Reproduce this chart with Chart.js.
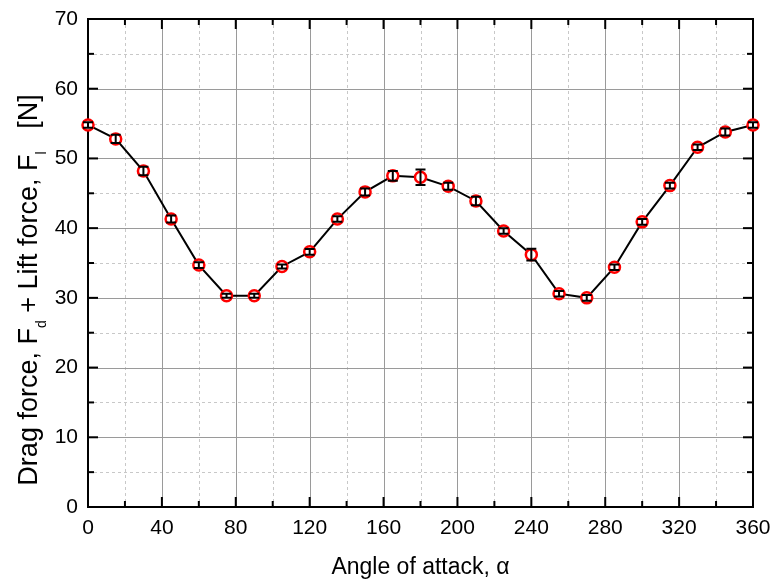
<!DOCTYPE html>
<html>
<head>
<meta charset="utf-8">
<script src="https://cdn.jsdelivr.net/npm/chart.js@4/dist/chart.umd.min.js"></script>
<style>
  html, body { margin: 0; padding: 0; background: #fff; }
</style>
</head>
<body>
<canvas id="forceChart" width="773" height="582"></canvas>
<script>
// angle of attack (deg), total force (N) and error half-width
const angles = [0, 15, 30, 45, 60, 75, 90, 105, 120, 135, 150, 165, 180,
  195, 210, 225, 240, 255, 270, 285, 300, 315, 330, 345, 360];
const force = [54.8, 52.8, 48.2, 41.3, 34.7, 30.3, 30.3, 34.5, 36.6, 41.3, 45.2, 47.5, 47.3,
  46.0, 43.9, 39.6, 36.2, 30.6, 30.0, 34.4, 40.9, 46.1, 51.6, 53.8, 54.8];
const forceErr = [0.4, 0.6, 0.6, 0.5, 0.4, 0.3, 0.3, 0.3, 0.4, 0.4, 0.5, 0.7, 1.1,
  0.5, 0.6, 0.4, 0.85, 0.4, 0.4, 0.4, 0.4, 0.4, 0.4, 0.5, 0.4];

const xMajor = [0, 40, 80, 120, 160, 200, 240, 280, 320, 360];
const xMinor = [20, 60, 100, 140, 180, 220, 260, 300, 340];
const yMajor = [0, 10, 20, 30, 40, 50, 60, 70];
const yMinor = [5, 15, 25, 35, 45, 55, 65];

const FONT = '"Liberation Sans", Arial, sans-serif';

const framePlugin = {
  id: "frame",
  beforeDatasetsDraw(chart) {
    const { ctx, chartArea: a, scales } = chart;
    const xs = scales.x, ys = scales.y;
    ctx.save();
    // minor grid
    ctx.strokeStyle = "#c8c8c8";
    ctx.lineWidth = 1;
    ctx.setLineDash([3, 3]);
    xMinor.forEach(v => {
      const px = Math.round(xs.getPixelForValue(v)) + 0.5;
      ctx.beginPath(); ctx.moveTo(px, a.top); ctx.lineTo(px, a.bottom); ctx.stroke();
    });
    yMinor.forEach(v => {
      const py = Math.round(ys.getPixelForValue(v)) + 0.5;
      ctx.beginPath(); ctx.moveTo(a.left, py); ctx.lineTo(a.right, py); ctx.stroke();
    });
    // major grid
    ctx.setLineDash([]);
    ctx.strokeStyle = "#9a9a9a";
    xMajor.forEach(v => {
      const px = Math.round(xs.getPixelForValue(v)) + 0.5;
      ctx.beginPath(); ctx.moveTo(px, a.top); ctx.lineTo(px, a.bottom); ctx.stroke();
    });
    yMajor.forEach(v => {
      const py = Math.round(ys.getPixelForValue(v)) + 0.5;
      ctx.beginPath(); ctx.moveTo(a.left, py); ctx.lineTo(a.right, py); ctx.stroke();
    });
    // inward ticks on all four sides
    ctx.strokeStyle = "#000";
    ctx.lineWidth = 2;
    const tick = (vals, len) => {
      vals.forEach(v => {
        const px = xs.getPixelForValue(v);
        ctx.beginPath(); ctx.moveTo(px, a.bottom); ctx.lineTo(px, a.bottom - len); ctx.stroke();
        ctx.beginPath(); ctx.moveTo(px, a.top); ctx.lineTo(px, a.top + len); ctx.stroke();
      });
    };
    const tickY = (vals, len) => {
      vals.forEach(v => {
        const py = ys.getPixelForValue(v);
        ctx.beginPath(); ctx.moveTo(a.left, py); ctx.lineTo(a.left + len, py); ctx.stroke();
        ctx.beginPath(); ctx.moveTo(a.right, py); ctx.lineTo(a.right - len, py); ctx.stroke();
      });
    };
    tick(xMajor, 10); tick(xMinor, 6);
    tickY(yMajor, 10); tickY(yMinor, 6);
    ctx.strokeRect(a.left, a.top, a.right - a.left, a.bottom - a.top);
    ctx.restore();
  },
  afterDatasetsDraw(chart) {
    const { ctx, scales } = chart;
    const xs = scales.x, ys = scales.y;
    ctx.save();
    ctx.strokeStyle = "#000";
    ctx.lineWidth = 2;
    angles.forEach((ang, i) => {
      const px = xs.getPixelForValue(ang);
      const top = ys.getPixelForValue(force[i] + forceErr[i]);
      const bot = ys.getPixelForValue(force[i] - forceErr[i]);
      ctx.beginPath();
      ctx.moveTo(px, top); ctx.lineTo(px, bot);
      ctx.moveTo(px - 5, top); ctx.lineTo(px + 5, top);
      ctx.moveTo(px - 5, bot); ctx.lineTo(px + 5, bot);
      ctx.stroke();
    });
    ctx.restore();
  },
  afterDraw(chart) {
    const { ctx, chartArea: a } = chart;
    ctx.save();
    ctx.fillStyle = "#000";
    // x title
    ctx.font = "23px " + FONT;
    ctx.textAlign = "center";
    ctx.textBaseline = "alphabetic";
    ctx.fillText("Angle of attack, \u03b1", (a.left + a.right) / 2, 574);
    // y title with subscripts
    const parts = [
      ["Drag force, F", false], ["d", true], [" + Lift force, F", false], ["l", true], ["   [N]", false]
    ];
    const big = "27px " + FONT, small = "14px " + FONT;
    let total = 0;
    parts.forEach(p => { ctx.font = p[1] ? small : big; total += ctx.measureText(p[0]).width; });
    ctx.translate(37, 290);
    ctx.rotate(-Math.PI / 2);
    ctx.textAlign = "left";
    let x = -total / 2;
    parts.forEach(p => {
      ctx.font = p[1] ? small : big;
      ctx.fillText(p[0], x, p[1] ? 9 : 0);
      x += ctx.measureText(p[0]).width;
    });
    ctx.restore();
  }
};

new Chart(document.getElementById("forceChart").getContext("2d"), {
  type: "line",
  data: {
    datasets: [{
      data: angles.map((a, i) => ({ x: a, y: force[i] })),
      borderColor: "#000",
      borderWidth: 2,
      pointRadius: 5.5,
      pointBorderWidth: 2.5,
      pointBorderColor: "#ff0000",
      pointBackgroundColor: "#ffffff",
      tension: 0,
      clip: false
    }]
  },
  options: {
    responsive: false,
    animation: false,
    layout: { padding: { top: 19, right: 20, left: 0, bottom: 0 } },
    plugins: { legend: { display: false }, tooltip: { enabled: false } },
    scales: {
      x: {
        type: "linear", min: 0, max: 360,
        afterBuildTicks: s => { s.ticks = xMajor.map(v => ({ value: v })); },
        afterFit: s => { s.height = 75; s.paddingLeft = 0; s.paddingRight = 0; },
        grid: { display: false, drawTicks: false },
        border: { display: false },
        ticks: { color: "#000", font: { family: FONT, size: 21 }, padding: 9, maxRotation: 0 }
      },
      y: {
        type: "linear", min: 0, max: 70,
        afterBuildTicks: s => { s.ticks = yMajor.map(v => ({ value: v })); },
        afterFit: s => { s.width = 88; s.paddingTop = 0; s.paddingBottom = 0; },
        grid: { display: false, drawTicks: false },
        border: { display: false },
        ticks: { color: "#000", font: { family: FONT, size: 21 }, padding: 10 }
      }
    }
  },
  plugins: [framePlugin]
});
</script>
</body>
</html>
